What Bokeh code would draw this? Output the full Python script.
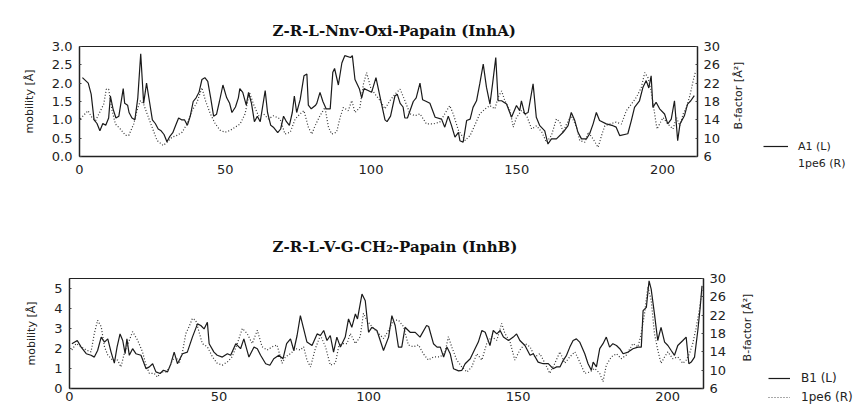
import math
from bokeh.plotting import figure
from bokeh.models import Range1d, LinearAxis, FixedTicker, Legend, LegendItem, PrintfTickFormatter
from bokeh.core.properties import value
from bokeh.layouts import column, row
from bokeh.embed import file_html
from bokeh.resources import INLINE

# ---------------- data ----------------
titles = ["Z-R-L-Nnv-Oxi-Papain (InhA)", "Z-R-L-V-G-CH\u2082-Papain (InhB)"]
x_ticks = [0, 50, 100, 150, 200]
bf_ticks = [6, 10, 14, 18, 22, 26, 30]
left_label = "mobility [\u00c5]"
right_label = "B-factor [\u00c5\u00b2]"

a1_x = [1, 3, 4, 5, 6, 7, 8, 9, 10, 10.6, 11.5, 12.5, 13.5, 15, 15.5, 16.5, 17, 18, 19, 20, 21, 22, 23, 24, 25, 26, 27, 28, 29, 30,
        31, 32, 33, 34, 35, 36, 37, 38, 39, 40, 41, 42, 43, 44, 45, 46, 47, 48, 49.2, 50.5, 51.5, 52.3, 53.5, 54.5, 55, 56, 57.2, 58,
        59, 60, 61, 62, 63.7, 64.5, 65.6, 66.5, 68, 69, 70, 71, 72, 73, 73.7, 74.5, 75.7, 77, 78, 78.5, 79.5, 81, 81.4, 82.5, 83.5,
        84.6, 86, 86.9, 87.5, 88.8, 90, 91, 93, 93.6, 94.5, 96, 96.8, 97.6, 99, 100.2, 101.7, 102.5, 103.7, 104.8, 105.5, 106.7,
        108.2, 109, 110, 111, 111.6, 112.5, 114.5, 115.5, 116.8, 117.7, 119, 120.2, 122, 124.2, 125.3, 126.5, 127.6, 128.8, 130,
        130.5, 131.6, 132.8, 134, 135, 136.2, 137.3, 138.5, 139.6, 140.8, 141.7, 142.8, 143.6, 144.8, 146.5, 148.2, 149.9, 151,
        151.6, 152.7, 153.9, 155.6, 156.7, 157.9, 159.6, 160.7, 161.9, 163.6, 165.9, 167.6, 168.7, 169.9, 171, 172.2, 173.9, 175,
        176.2, 177.3, 178.4, 180.7, 183, 184.1, 185.3, 188.1, 189.3, 190.4, 192.1, 193.3, 194.4, 195.3, 196.1, 196.7, 197.8, 199,
        200.7, 201.8, 203, 204.1, 205.2, 206, 207.5, 208.6, 209.7, 210.9]
a1_y = [2.15, 2.0, 1.7, 1.0, 0.9, 0.7, 0.9, 0.85, 1.05, 1.65, 1.3, 1.05, 1.1, 1.85, 1.45, 1.4, 1.2, 1.05, 1.0, 1.6, 2.8, 1.45, 2.0,
        1.5, 1.0, 0.9, 0.75, 0.7, 0.6, 0.4, 0.55, 0.65, 0.85, 1.05, 1.0, 1.0, 0.85, 1.1, 1.5, 1.6, 1.75, 2.1, 2.15, 2.05, 1.6, 1.1,
        1.15, 1.5, 1.95, 1.6, 1.45, 1.2, 1.35, 1.6, 1.85, 1.75, 1.4, 1.75, 1.45, 0.95, 1.1, 0.95, 1.8, 1.2, 0.85, 0.8, 0.65, 0.75,
        1.1, 0.95, 0.85, 1.2, 1.65, 1.2, 1.55, 2.2, 2.25, 1.4, 1.3, 1.4, 1.45, 1.75, 1.5, 1.3, 1.3, 2.3, 2.4, 1.95, 2.55, 2.75, 2.7,
        2.75, 2.1, 1.85, 1.6, 1.85, 1.8, 1.75, 2.15, 1.85, 1.4, 1.0, 0.95, 1.1, 1.65, 1.7, 1.45, 1.35, 1.05, 1.05, 1.5, 1.6, 2.0,
        1.55, 1.5, 1.45, 1.07, 1.02, 0.8, 1.1, 0.85, 0.53, 0.66, 0.43, 0.39, 0.98, 1.02, 1.34, 1.52, 1.98, 2.52, 1.89, 1.43, 1.98,
        2.7, 1.52, 1.52, 1.43, 1.07, 1.39, 1.25, 1.52, 1.16, 1.2, 1.98, 1.07, 0.84, 0.7, 0.34, 0.48, 0.48, 0.66, 0.84, 1.2, 0.98,
        0.66, 0.48, 0.48, 0.62, 0.89, 1.2, 0.98, 0.89, 0.84, 0.8, 0.57, 0.62, 0.98, 1.34, 1.52, 1.89, 2.07, 1.87, 2.2, 1.34, 1.48,
        1.3, 1.16, 0.89, 1.02, 1.52, 0.43, 0.89, 1.11, 1.43, 1.52, 1.66]

pe6a_x = [0.3, 2.9, 4.3, 5.5, 7.2, 8.3, 9.2, 10, 11.2, 12.3, 14, 15.8, 16.9, 18.6, 19.7, 20.9, 22, 23.2, 24.9, 26.6, 28.7, 30, 31.7,
          33.4, 35.2, 36.9, 38.6, 40.3, 42, 43.2, 44.9, 46.6, 48.3, 50, 51.7, 53.4, 55.1, 56.8, 58.3, 59.7, 61.4, 63.1, 64.8, 66.6,
          68.8, 70.5, 72.3, 74, 75.7, 77, 78.5, 79.7, 80.8, 82.5, 84.2, 85.4, 86.5, 88.2, 89.4, 90.5, 92.2, 93.4, 94.5, 96.2, 97.4,
          98.5, 99.9, 101.4, 103.1, 104.8, 106.5, 108.2, 110, 111.6, 113.4, 115.1, 116.8, 119, 121.3, 123.6, 125.3, 127, 128.2,
          130, 132.3, 134, 135.8, 137.3, 139.2, 140.8, 142.5, 143.6, 144.8, 145.9, 147.7, 148.8, 149.9, 151.6, 153.4, 155.1, 156.8,
          158.6, 160.2, 161.9, 163.6, 164.8, 165.9, 167.1, 168.7, 170.5, 171.6, 173.4, 174.5, 176.2, 177.9, 179.1, 180.2, 181.9,
          184.1, 185.9, 187.6, 189.3, 191, 192.7, 193.9, 195, 196.1, 197.3, 198.1, 199, 200.2, 201.8, 203.6, 204.8, 205.9, 207.1,
          208.2, 209.4, 210.5, 211.4]
pe6a_y = [14.2, 16, 14.5, 13.8, 16, 17.4, 20.7, 20.7, 16, 13.1, 12, 10.6, 10.6, 13.1, 16, 18.2, 17.4, 15.3, 12.4, 9.5, 8.4, 9.1, 10.2,
          10.6, 11.3, 13.1, 16, 17.8, 21, 18.2, 15.3, 13.1, 11.7, 11.3, 11.7, 12.4, 13.1, 15.3, 20, 17.4, 14.9, 15.3, 14.2, 14.9,
          14.2, 10.9, 11.3, 14.2, 15.3, 16, 12.4, 10.9, 12.7, 14.9, 16.7, 12.4, 10.9, 11.3, 14.5, 16.7, 16, 18.2, 15.6, 16.7, 21.8,
          24.3, 21, 19.6, 18.2, 16.4, 18.2, 19.6, 20.7, 18.2, 15.3, 14.9, 15.3, 13.1, 13.1, 13.5, 15.3, 17.1, 15.3, 11.7, 9.5, 10.6,
          13.1, 15.3, 16.4, 17.1, 16.4, 18.9, 20.3, 18.2, 16, 12.4, 14.5, 16, 14.9, 12, 12.7, 11.3, 9.1, 10.6, 14.2, 13.5, 11.3,
          13.1, 14.9, 12.4, 9.5, 9.1, 11.3, 9.8, 8, 10.6, 12.7, 13.1, 13.5, 13.1, 16, 17.4, 18.9, 21, 24.3, 23.2, 20.3, 15.3, 12,
          13.1, 14.5, 13.1, 12, 14.5, 12.7, 15.3, 16.7, 19.3, 22.5, 24.7]

b1_x = [0.8, 2.6, 3.9, 5.6, 7.2, 8.3, 9.4, 10.6, 11.7, 12.8, 13.9, 15, 15.9, 16.9, 17.8, 18.6, 19.2, 20, 21.1, 22.2, 23.9, 25.6,
        26.7, 27.8, 28.9, 30.3, 31.4, 32.8, 33.9, 35, 36.1, 37.8, 39.4, 41.1, 42.8, 43.9, 45, 46.1, 46.7, 48.3, 49.4, 51.1, 52.8,
        53.9, 55.6, 57.2, 58.3, 60, 61.7, 62.8, 63.9, 65.6, 67, 68.3, 70, 71.4, 72.6, 73.9, 75, 76.1, 77.2, 78.3, 79.4, 81.1, 82.8,
        83.9, 85, 86.1, 87.2, 88.3, 89.4, 90.6, 92.2, 93.3, 94.4, 95.6, 96.3, 97.8, 98.9, 100, 101.1, 102.8, 105, 106.7, 107.8,
        108.9, 110, 111.1, 112.2, 113.9, 115.6, 117.2, 119.4, 120.1, 121.7, 122.9, 124, 125.1, 126.2, 127.3, 128.4, 130.1, 131.2,
        132.3, 134, 135.6, 136.7, 137.9, 139, 140.6, 141.7, 142.9, 144, 145.1, 146.8, 148.4, 149.5, 150.6, 152.3, 154, 155.1,
        156.7, 158.4, 160.1, 161.7, 162.9, 164, 165.1, 166.2, 167.3, 168.4, 169.5, 170.6, 172.3, 173.4, 174.5, 175.1, 176.2,
        177.3, 178.4, 179.5, 180.6, 181.7, 182.9, 184, 185.1, 186.8, 188.4, 190.1, 191.2, 191.8, 192.9, 193.8, 194.5, 195.6,
        196.7, 197.8, 199, 200.1, 201.2, 202.3, 203.4, 205.1, 206.2, 207.1, 207.9, 209, 210.1, 210.9, 211.5]
b1_y = [2.24, 2.4, 2.07, 1.74, 1.66, 1.57, 1.9, 2.57, 2.32, 2.48, 1.82, 1.27, 2.07, 2.73, 2.4, 1.74, 2.48, 1.66, 1.99, 1.74, 1.66,
        0.99, 1.08, 1.24, 0.83, 0.75, 0.91, 0.83, 1.24, 1.82, 1.24, 1.74, 1.82, 2.57, 3.23, 3.15, 2.98, 3.31, 2.24, 1.82, 1.66,
        1.57, 1.74, 1.66, 2.24, 1.99, 2.48, 1.57, 2.07, 1.99, 1.66, 1.24, 1.16, 1.49, 1.66, 1.49, 2.24, 2.48, 1.9, 2.65, 3.64,
        2.98, 2.32, 2.15, 2.73, 2.65, 2.9, 2.4, 2.65, 1.82, 2.57, 2.07, 2.57, 3.48, 3.06, 3.73, 3.48, 4.72, 4.39, 2.81, 3.06, 2.9,
        1.9, 2.57, 3.64, 3.15, 2.07, 2.07, 3.06, 2.81, 2.81, 2.57, 3.15, 3.1, 2.24, 2.07, 2.07, 1.57, 2.07, 1.74, 0.99, 0.88,
        0.91, 1.24, 1.49, 1.99, 2.32, 2.9, 2.81, 2.15, 2.9, 2.73, 2.9, 2.57, 2.4, 2.57, 2.73, 2.4, 2.15, 1.66, 1.74, 1.32, 1.24,
        1.24, 0.99, 1.08, 1.08, 1.41, 1.66, 2.07, 2.4, 2.48, 2.32, 1.74, 1.24, 0.91, 1.32, 1.08, 1.99, 2.24, 2.57, 2.07, 2.24,
        2.15, 1.99, 1.74, 1.82, 1.99, 2.07, 2.07, 3.89, 4.06, 5.38, 4.97, 3.73, 2.4, 3.06, 2.32, 2.15, 1.9, 1.66, 2.15, 2.4,
        2.57, 1.24, 1.32, 1.57, 2.9, 4.06, 5.13]

pe6b_x = [0.8, 2.2, 3.9, 5.6, 7.2, 8.3, 9.4, 10.6, 11.7, 12.8, 14.4, 16.1, 17.2, 18.3, 20, 21.1, 22.8, 24.4, 25.6, 26.7, 28.3,
          29.4, 30.6, 32.2, 33.3, 34.4, 35.6, 36.7, 37.8, 38.9, 40, 41.1, 42.2, 43.3, 44.4, 46.1, 47.8, 49.4, 51.1, 52.8, 54.4,
          56.1, 57.8, 59.4, 61.1, 62.8, 64.4, 66.1, 67.8, 69.4, 71.1, 72.2, 73.9, 75.6, 77.2, 78.3, 79.4, 80.6, 82.2, 83.9, 85.6,
          87.2, 88.9, 90, 91.1, 92.8, 93.9, 95.6, 97.2, 98.3, 99.4, 101.1, 102.8, 105, 106.7, 108.3, 110, 111.7, 113.3, 115,
          116.7, 118.3, 120, 121.7, 124, 125.6, 126.7, 127.8, 129.5, 131.2, 132.9, 134.5, 136.2, 137.9, 139.5, 141.2, 142.9,
          144.5, 145.6, 147.3, 148.9, 150.6, 152.3, 154, 155.6, 157.3, 159, 160.6, 162.3, 164, 165.6, 167.3, 169, 170.6, 172.3,
          174, 175.6, 177.3, 178.4, 179.5, 181.2, 182.9, 184.5, 186.2, 188.4, 190.1, 191.2, 192.3, 193.4, 194.5, 195.6, 196.7,
          197.8, 199, 200.1, 201.7, 203.4, 205.1, 206.2, 207.3, 208.4, 209.5, 210.6, 211.5]
pe6b_y = [14.4, 15.8, 15.1, 14.4, 14, 18, 20.9, 19.5, 15.1, 13.3, 12.2, 12.2, 10.7, 13.6, 16.5, 18.4, 16.5, 14, 11.1, 9.3, 9.3, 8.5,
          9.6, 9.6, 10.4, 12.2, 12.9, 11.5, 14, 18, 19.5, 21.3, 20.9, 18.4, 15.8, 15.1, 12.9, 11.5, 11.1, 11.8, 12.9, 15.8, 19.1,
          18, 15.8, 18.7, 15.1, 14.4, 15.1, 15.5, 11.5, 12.9, 13.6, 14.7, 14.4, 15.1, 12.2, 10.7, 14.7, 17.6, 15.1, 11.1, 11.5,
          15.1, 15.8, 15.8, 18, 15.8, 17.3, 22.4, 20.9, 19.5, 18.4, 16.9, 18.7, 20.9, 20.9, 19.5, 15.5, 15.1, 15.5, 13.6, 12.2,
          12.9, 12.9, 14, 17.3, 15.1, 12.2, 10.7, 9.6, 10.7, 13.6, 12.2, 15.8, 17.3, 16.5, 20.2, 18, 16.2, 12.2, 14.4, 15.8, 15.1,
          12.9, 13.6, 11.5, 9.3, 11.5, 14, 11.5, 12.9, 14, 11.8, 9.3, 9.6, 10.4, 9.3, 7.5, 11.1, 12.9, 13.6, 12.5, 13.3, 15.8,
          15.1, 18, 22.4, 28.2, 25.3, 18, 14.4, 11.5, 12.9, 14, 12.5, 12.9, 11.5, 12.2, 13.6, 15.8, 19.1, 23.1, 27.5]

panels = [
    dict(title=titles[0], lx=a1_x, ly=a1_y, rx=pe6a_x, ry=pe6a_y, ymax=3.0, lticks=[0, 0.5, 1.0, 1.5, 2.0, 2.5, 3.0],
         fmt="%.1f", lname="A1 (L)", rname="1pe6 (R)", show_rglyph=False,
         w=725, bl=79, br=28, bt=46, bb=45, h=201, toff=193, tstand=14, xstand=8,
         legw=131, rlab=(13, 106), leg=(38, 31), legfs="11px", legstand=10, legsp=3, gw=25),
    dict(title=titles[1], lx=b1_x, ly=b1_y, rx=pe6b_x, ry=pe6b_y, ymax=5.5, lticks=[0, 1, 2, 3, 4, 5],
         fmt="%d", lname="B1 (L)", rname="1pe6 (R)", show_rglyph=True,
         w=731, bl=69, br=28, bt=77, bb=18, h=205, toff=203, tstand=46, xstand=3,
         legw=125, rlab=(16, 79), leg=(37, 2), legfs="12px", legstand=11, legsp=5, gw=22),
]

rows = []
for pn in panels:
    p = figure(width=pn["w"], height=pn["h"], output_backend="svg", toolbar_location=None,
               x_range=Range1d(0, 212), y_range=Range1d(0, pn["ymax"]),
               min_border_left=pn["bl"], min_border_right=pn["br"],
               min_border_top=pn["bt"], min_border_bottom=pn["bb"])
    p.frame_align = False
    p.extra_y_ranges = {"bf": Range1d(6, 30)}
    p.grid.visible = False
    p.background_fill_color = "white"
    p.border_fill_color = "white"
    p.outline_line_color = "#222222"
    p.outline_line_width = 1

    p.title.text = pn["title"]
    p.title.text_font = "DejaVu Serif"
    p.title.text_font_style = "bold"
    p.title.text_font_size = "15px"
    p.title.align = "left"
    p.title.offset = pn["toff"]
    p.title.standoff = pn["tstand"]
    p.title.text_color = "#111111"

    p.line(pn["lx"], pn["ly"], line_color="#1a1a1a", line_width=1.2)
    p.line(pn["rx"], pn["ry"], y_range_name="bf", line_color="#333333",
           line_width=1.2, line_dash="1 2")

    p.xaxis.ticker = FixedTicker(ticks=x_ticks)
    p.yaxis.ticker = FixedTicker(ticks=pn["lticks"])
    p.yaxis.formatter = PrintfTickFormatter(format=pn["fmt"])
    p.yaxis.axis_label = left_label

    right = LinearAxis(y_range_name="bf", ticker=FixedTicker(ticks=bf_ticks))
    p.add_layout(right, "right")

    for ax in p.axis:
        ax.major_label_text_font = "DejaVu Sans"
        ax.major_label_text_font_size = "13px"
        ax.major_label_text_color = "#222222"
        ax.axis_label_text_font = "DejaVu Sans"
        ax.axis_label_text_font_size = "11px"
        ax.axis_label_text_font_style = "normal"
        ax.axis_label_text_color = "#222222"
        ax.axis_line_color = "#222222"
        ax.axis_line_width = 1.5
        ax.major_tick_line_color = "#444444"
        ax.major_tick_in = 2
        ax.major_tick_out = 0
        ax.minor_tick_line_color = None
        ax.major_label_standoff = 7
        ax.axis_label_standoff = 13
    right.major_label_standoff = 6
    p.xaxis.major_tick_in = 0
    p.xaxis.major_label_standoff = pn["xstand"]

    # side panel: right axis title + legend (pixel-like coordinates)
    lg = figure(width=pn["legw"], height=pn["h"], output_backend="svg", toolbar_location=None,
                x_axis_type=None, y_axis_type=None,
                x_range=Range1d(0, pn["legw"]), y_range=Range1d(0, pn["h"]),
                min_border=0, min_border_left=0, min_border_right=0, min_border_top=0, min_border_bottom=0)
    lg.frame_align = False
    lg.outline_line_color = None
    lg.grid.visible = False
    lg.background_fill_color = "white"
    lg.border_fill_color = "white"
    lg.text(x=[pn["rlab"][0]], y=[pn["rlab"][1]], text=[right_label], angle=math.pi / 2,
            text_align="center", text_baseline="middle", text_font=value("DejaVu Sans"),
            text_font_size=value("11px"), text_color="#222222")
    r_solid = lg.line([-50, -40], [-50, -40], line_color="#1a1a1a", line_width=1.2)
    r_dot = lg.line([-50, -40], [-50, -40], line_color="#555555", line_width=1.2, line_dash="1 2",
                    line_alpha=1.0 if pn["show_rglyph"] else 0.0)
    leg = Legend(items=[LegendItem(label=pn["lname"], renderers=[r_solid]),
                        LegendItem(label=pn["rname"], renderers=[r_dot])],
                 location=pn["leg"], orientation="vertical")
    leg.border_line_color = None
    leg.background_fill_alpha = 0
    leg.padding = 0
    leg.margin = 0
    leg.spacing = pn["legsp"]
    leg.glyph_width = pn["gw"]
    leg.glyph_height = 14
    leg.label_height = 14
    leg.label_standoff = pn["legstand"]
    leg.label_text_font = "DejaVu Sans"
    leg.label_text_font_size = pn["legfs"]
    leg.label_text_color = "#222222"
    lg.add_layout(leg, "center")

    rows.append(row(p, lg, spacing=0))

layout = column(*rows, spacing=0)
open("out.html", "w").write(file_html(layout, INLINE))
